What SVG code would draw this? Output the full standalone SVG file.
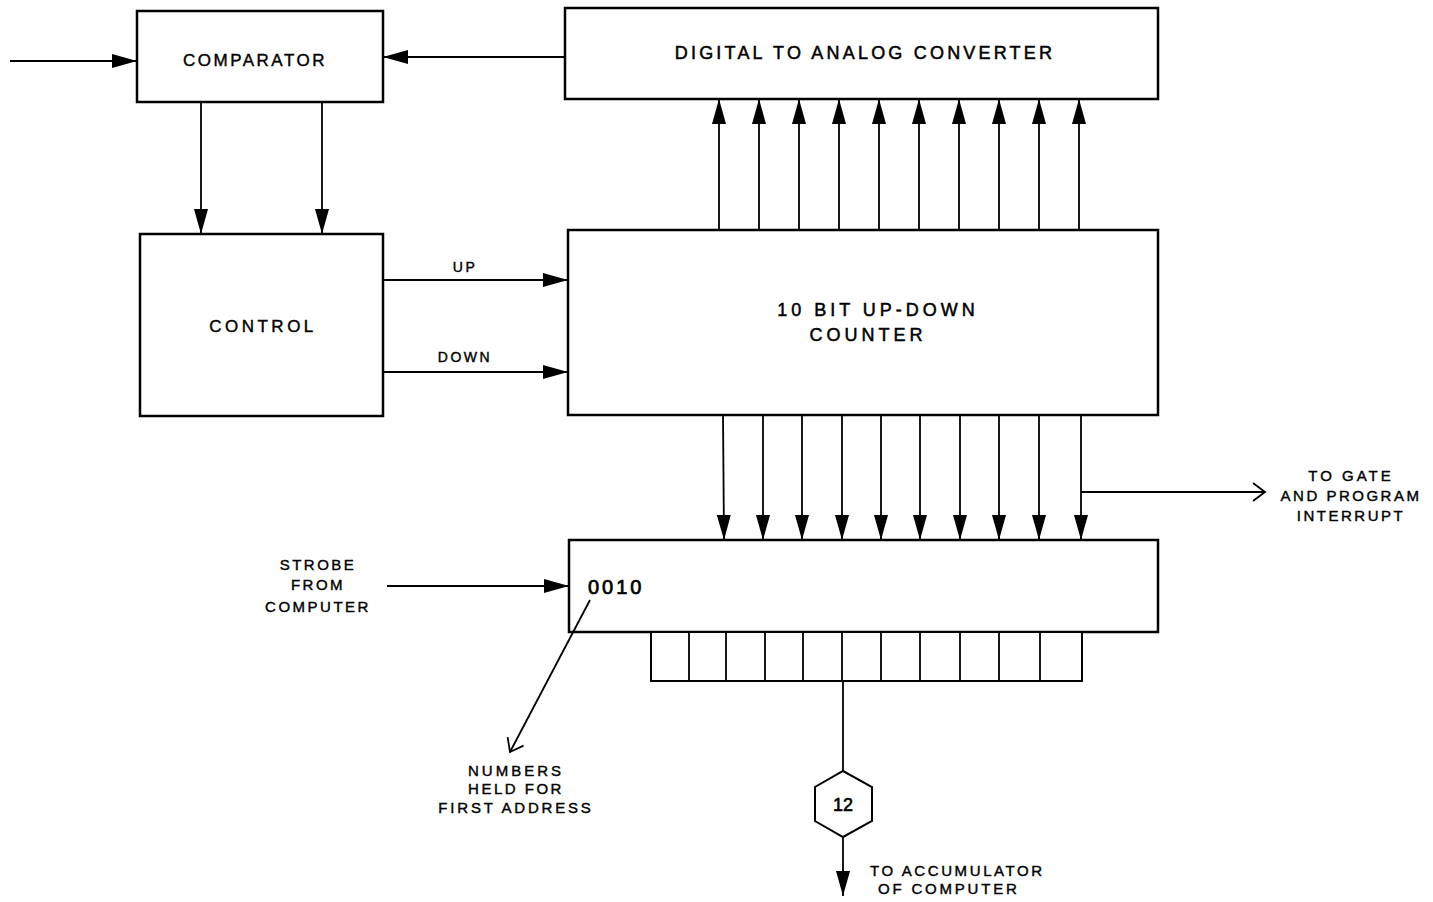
<svg xmlns="http://www.w3.org/2000/svg" width="1433" height="902" viewBox="0 0 1433 902">
<style>
.box{fill:#fff;stroke:#000;stroke-width:2.5}
.ln{fill:none;stroke:#000;stroke-width:1.8}
.t{font-family:"Liberation Sans",Arial,sans-serif;font-size:16px;fill:#000;stroke:#000;stroke-width:0.4;text-anchor:middle;letter-spacing:2.5px}
.big{font-size:18px;stroke-width:0.5}
.sm{font-size:15px}
</style>
<defs>
<marker id="a" markerUnits="userSpaceOnUse" markerWidth="28" markerHeight="18" refX="25" refY="9" orient="auto">
<path d="M0,2 L25,9 L0,16 Z" fill="#000"/>
</marker>
<marker id="o" markerUnits="userSpaceOnUse" markerWidth="16" markerHeight="22" refX="13" refY="11" orient="auto">
<path d="M1,2 L13,11 L1,20" fill="none" stroke="#000" stroke-width="1.8"/>
</marker>
</defs>
<g id="comparator">
<rect class="box" x="137" y="11" width="246" height="91"/>
<text class="t" x="255" y="66" style="font-size:17px">COMPARATOR</text>
</g>
<g id="dac">
<rect class="box" x="565" y="8" width="593" height="91"/>
<text class="t big" x="865" y="59" style="letter-spacing:3.2px">DIGITAL  TO ANALOG  CONVERTER</text>
</g>
<g id="control">
<rect class="box" x="140" y="234" width="243" height="182"/>
<text class="t" x="263" y="332" style="font-size:17px;letter-spacing:3.5px">CONTROL</text>
</g>
<g id="counter">
<rect class="box" x="568" y="230" width="590" height="185"/>
<text class="t big" x="878" y="316" style="letter-spacing:4px">10 BIT UP-DOWN</text>
<text class="t big" x="868" y="341" style="letter-spacing:4px">COUNTER</text>
</g>
<g id="register">
<rect class="box" x="569" y="540" width="589" height="92"/>
<text class="t" x="588" y="594" style="font-size:20px;text-anchor:start;letter-spacing:3px;stroke-width:0.7">0010</text>
</g>
<g id="cells">
<rect class="box" x="651" y="632" width="431" height="49" style="stroke-width:2"/>
<path class="ln" d="M689,632V681M726,632V681M765,632V681M803,632V681M842,632V681M881,632V681M920,632V681M960,632V681M999,632V681M1040,632V681"/>
</g>
<g id="hex">
<polygon class="box" points="843,771 872,787 872,821 843,837 815,821 815,787" style="stroke-width:2"/>
<text class="t" x="843" y="811" style="font-size:18px;letter-spacing:0;stroke-width:0.6">12</text>
</g>
<g id="connectors">
<line class="ln" x1="10" y1="61" x2="137" y2="61" marker-end="url(#a)"/>
<line class="ln" x1="565" y1="57" x2="383" y2="57" marker-end="url(#a)"/>
<line class="ln" x1="201" y1="102" x2="201" y2="234" marker-end="url(#a)"/>
<line class="ln" x1="322" y1="102" x2="322" y2="234" marker-end="url(#a)"/>
<line class="ln" x1="383" y1="280" x2="568" y2="280" marker-end="url(#a)"/>
<line class="ln" x1="383" y1="372" x2="568" y2="372" marker-end="url(#a)"/>
<g id="up-bus">
<line class="ln" x1="719" y1="230" x2="719" y2="99" marker-end="url(#a)"/>
<line class="ln" x1="759" y1="230" x2="759" y2="99" marker-end="url(#a)"/>
<line class="ln" x1="799" y1="230" x2="799" y2="99" marker-end="url(#a)"/>
<line class="ln" x1="839" y1="230" x2="839" y2="99" marker-end="url(#a)"/>
<line class="ln" x1="879" y1="230" x2="879" y2="99" marker-end="url(#a)"/>
<line class="ln" x1="919" y1="230" x2="919" y2="99" marker-end="url(#a)"/>
<line class="ln" x1="959" y1="230" x2="959" y2="99" marker-end="url(#a)"/>
<line class="ln" x1="999" y1="230" x2="999" y2="99" marker-end="url(#a)"/>
<line class="ln" x1="1039" y1="230" x2="1039" y2="99" marker-end="url(#a)"/>
<line class="ln" x1="1079" y1="230" x2="1079" y2="99" marker-end="url(#a)"/>
</g>
<g id="down-bus">
<line class="ln" x1="723" y1="415" x2="724" y2="540" marker-end="url(#a)"/>
<line class="ln" x1="763" y1="415" x2="763" y2="540" marker-end="url(#a)"/>
<line class="ln" x1="802" y1="415" x2="802" y2="540" marker-end="url(#a)"/>
<line class="ln" x1="842" y1="415" x2="842" y2="540" marker-end="url(#a)"/>
<line class="ln" x1="881" y1="415" x2="881" y2="540" marker-end="url(#a)"/>
<line class="ln" x1="920" y1="415" x2="920" y2="540" marker-end="url(#a)"/>
<line class="ln" x1="960" y1="415" x2="960" y2="540" marker-end="url(#a)"/>
<line class="ln" x1="999" y1="415" x2="999" y2="540" marker-end="url(#a)"/>
<line class="ln" x1="1039" y1="415" x2="1039" y2="540" marker-end="url(#a)"/>
<line class="ln" x1="1081" y1="415" x2="1081" y2="540" marker-end="url(#a)"/>
</g>
<line class="ln" x1="1081" y1="492" x2="1265" y2="492" marker-end="url(#o)"/>
<line class="ln" x1="387" y1="586" x2="569" y2="586" marker-end="url(#a)"/>
<line class="ln" x1="590" y1="600" x2="510" y2="752" marker-end="url(#o)"/>
<line class="ln" x1="843" y1="681" x2="843" y2="771"/>
<line class="ln" x1="843" y1="837" x2="843" y2="896" marker-end="url(#a)"/>
</g>
<g id="labels">
<text class="t" x="465" y="272" style="font-size:14px">UP</text>
<text class="t" x="465" y="362" style="font-size:14px">DOWN</text>
<text class="t sm" x="318" y="570">STROBE</text>
<text class="t sm" x="318" y="590">FROM</text>
<text class="t sm" x="318" y="612">COMPUTER</text>
<text class="t sm" x="1351" y="481" style="letter-spacing:3px">TO GATE</text>
<text class="t sm" x="1351" y="501">AND PROGRAM</text>
<text class="t sm" x="1351" y="521">INTERRUPT</text>
<text class="t sm" x="516" y="776" style="letter-spacing:3px">NUMBERS</text>
<text class="t sm" x="516" y="794">HELD FOR</text>
<text class="t sm" x="516" y="813" style="letter-spacing:2.8px">FIRST ADDRESS</text>
<text class="t sm" x="870" y="876" style="text-anchor:start;letter-spacing:2.6px">TO ACCUMULATOR</text>
<text class="t sm" x="878" y="894" style="text-anchor:start;letter-spacing:2.8px">OF COMPUTER</text>
</g>
</svg>
